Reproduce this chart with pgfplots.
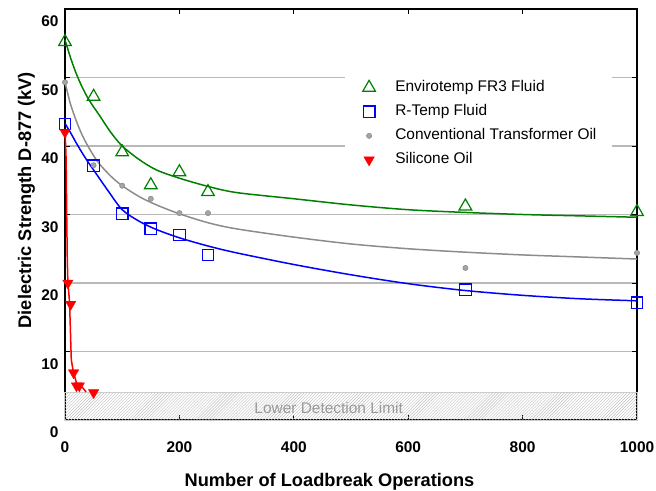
\documentclass[border=0pt]{standalone}
\usepackage{fontspec}
\setmainfont{Liberation Sans}
\usepackage{pgfplots}
\pgfplotsset{compat=1.18}
\usetikzlibrary{patterns}
\definecolor{fr3}{RGB}{0,128,0}
\definecolor{rtemp}{RGB}{0,0,255}
\definecolor{conv}{RGB}{140,140,140}
\definecolor{convdot}{RGB}{165,165,165}
\definecolor{sil}{RGB}{255,0,0}
\definecolor{gridc}{RGB}{185,185,185}
\begin{document}
\begin{tikzpicture}
\path[use as bounding box] (-65bp,-71bp) rectangle (591bp,420bp);
\begin{axis}[
  at={(0,0)}, anchor=south west,
  width=572bp, height=411bp, scale only axis,
  xmin=0, xmax=1000, ymin=0, ymax=60,
  xtick={0,200,...,1000}, ytick={0,10,...,60},
  tick align=inside, xtick pos=both, ytick pos=both,
  xticklabel pos=lower, yticklabel pos=left,
  major tick length=5bp,
  every tick/.style={black, line width=1bp},
  axis line style={line width=1.3bp},
  ymajorgrids, major grid style={color=gridc, line width=1.5bp},
  /pgf/number format/assume math mode=true,
  /pgf/number format/1000 sep={},
  ticklabel style={font=\fontsize{15.5}{18}\selectfont\bfseries},
  xticklabel style={yshift=-18bp},
  yticklabel style={yshift=-12.5bp, xshift=-3bp},
  xlabel={Number of Loadbreak Operations},
  ylabel={Dielectric Strength D-877 (kV)},
  label style={font=\fontsize{18.3}{22}\selectfont\bfseries},
  xlabel style={at={(axis description cs:0.4624,-0.1606)}, anchor=base},
  ylabel style={at={(axis description cs:-0.0594,0.535)}, anchor=base},
  clip=false,
  legend style={at={(axis cs:489,50.6)}, anchor=north west, draw=none, fill=white,
    font=\fontsize{15.5}{18}\selectfont, inner xsep=0bp, inner ysep=2bp, row sep=0bp,
    nodes={text height=11bp, text depth=3.5bp, inner ysep=4.8bp},
    /tikz/every odd column/.append style={column sep=0bp}},
  legend cell align=left,
  legend image code/.code={\path (-24bp,0bp) (24bp,0bp); \draw[#1] plot coordinates {(0bp,0bp)};},
]
% lower detection limit band
\addplot[draw=black!20, line width=1bp, pattern=north east lines, pattern color=black!25, forget plot]
  coordinates {(0,4) (1000,4)} \closedcycle;
\node[text=black!40, font=\fontsize{15.5}{18}\selectfont] at (axis cs:461,1.75) {Lower Detection Limit};

% fitted curves
\addplot[fr3, line width=1.5bp, smooth, forget plot] table {
x y
0 55.5
10 52.8
20 50.5
30 48.6
40 47.0
50 45.7
60 44.5
80 42.0
100 40.0
130 38.0
160 36.5
200 35.3
250 34.1
300 33.2
400 32.3
500 31.4
600 30.7
700 30.3
800 30.0
900 29.8
1000 29.6
};
\addplot[conv, line width=1.5bp, smooth, forget plot] table {
x y
0 49.3
5 47.6
10 46.0
20 43.6
30 41.6
40 40.0
50 38.6
60 37.4
80 35.6
100 34.2
130 32.6
160 31.4
200 30.1
250 28.8
300 27.9
400 26.7
500 25.7
600 25.0
700 24.5
800 24.1
900 23.8
1000 23.5
};
\addplot[rtemp, line width=1.5bp, smooth, forget plot] table {
x y
0 43.3
10 41.9
20 40.4
30 39.0
40 37.7
50 36.5
75 33.5
100 30.7
130 29.0
160 27.8
200 26.6
250 25.4
300 24.4
400 22.7
500 21.2
600 19.9
700 18.9
800 18.2
900 17.7
1000 17.4
};
\addplot[sil, line width=1.5bp, forget plot] table {
x y
0 42.5
2 38.0
3 30.0
4 23.4
5 20.3
8 17.1
11 8.8
14 7.3
20 5.4
31 4.7
37 4.1
};

% data points
\addplot[only marks, mark=triangle, mark size=7.3bp, mark options={draw=fr3, fill=none, line width=1.2bp}] table {
x y
0 55.2
50 47.2
100 39.1
150 34.3
200 36.2
250 33.3
700 31.2
1000 30.4
};
\addlegendentry{Envirotemp FR3 Fluid}
\addplot[only marks, mark=square, mark size=5.8bp, mark options={draw=rtemp, fill=none, line width=1.2bp}] table {
x y
0 43.2
50 37.1
100 30.1
150 27.9
200 27.0
250 24.1
700 19.0
1000 17.1
};
\addlegendentry{R-Temp Fluid}
\addplot[only marks, mark=*, mark size=2.6bp, mark options={draw=conv, fill=convdot, line width=0.6bp}] table {
x y
0 49.3
50 37.2
100 34.2
150 32.3
200 30.2
250 30.2
700 22.2
1000 24.4
};
\addlegendentry{Conventional Transformer Oil\kern14bp\null}
\addplot[only marks, mark=triangle*, mark size=6bp, mark options={draw=sil, fill=sil, rotate=180}] table {
x y
0 42.0
5 20.0
10 16.9
15 6.9
20 5.0
25 5.0
50 4.0
};
\addlegendentry{Silicone Oil}
\end{axis}
\end{tikzpicture}
\end{document}
